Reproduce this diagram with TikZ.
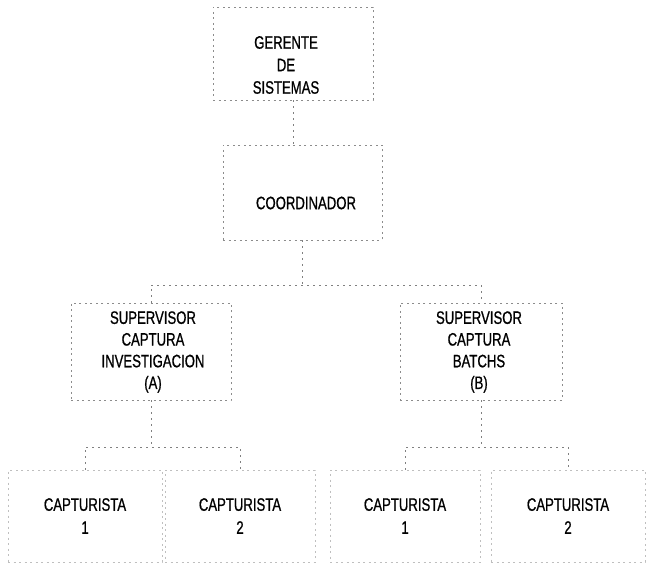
\documentclass[tikz,border=0pt]{standalone}
\usepackage{fontspec}
\setmainfont{Liberation Sans}[FakeStretch=0.73,FakeBold=0.8]
\begin{document}
\begin{tikzpicture}[x=1pt,y=-1pt,
  box/.style={draw=black!45, line width=0.6pt, dash pattern=on 2pt off 3.5pt,
    rectangle, inner sep=0pt},
  capbox/.style={box, draw=black!25},
  txt/.style={inner sep=0pt, align=center, font=\fontsize{18}{22.5}\selectfont},
  conn/.style={draw=black!50, line width=0.6pt, dash pattern=on 2pt off 4pt}]
\useasboundingbox (0,0) rectangle (654,564);
\node[box, minimum width=160pt, minimum height=93pt] (G) at (293,53.5) {};
\node[txt] (Gt) at (286,65) {GERENTE\\DE\\SISTEMAS};
\node[box, minimum width=159pt, minimum height=95pt] (C) at (302.5,192.5) {};
\node[txt] (Ct) at (306,203) {COORDINADOR};
\node[box, minimum width=160pt, minimum height=97pt] (SA) at (151,351.5) {};
\node[txt, font=\fontsize{18}{21.7}\selectfont] (SAt) at (153,352) {SUPERVISOR\\CAPTURA\\INVESTIGACION\\(A)};
\node[box, minimum width=162pt, minimum height=97pt] (SB) at (481,351.5) {};
\node[txt, font=\fontsize{18}{21.7}\selectfont] (SBt) at (479,352) {SUPERVISOR\\CAPTURA\\BATCHS\\(B)};
\node[capbox, minimum width=154pt, minimum height=92pt] (A1) at (85,516) {};
\node[txt, font=\fontsize{18}{23}\selectfont] (A1t) at (85,516) {CAPTURISTA\\1};
\node[capbox, minimum width=150pt, minimum height=92pt] (A2) at (240,516) {};
\node[txt, font=\fontsize{18}{23}\selectfont] (A2t) at (240,516) {CAPTURISTA\\2};
\node[capbox, minimum width=150pt, minimum height=92pt] (B1) at (405,516) {};
\node[txt, font=\fontsize{18}{23}\selectfont] (B1t) at (405,516) {CAPTURISTA\\1};
\node[capbox, minimum width=154pt, minimum height=92pt] (B2) at (568,516) {};
\node[txt, font=\fontsize{18}{23}\selectfont] (B2t) at (568,516) {CAPTURISTA\\2};
\coordinate (busC) at (0,285);
\coordinate (busA) at (0,447);
\draw[conn] (G.south) -- (G.south |- C.north);
\draw[conn] (C.south) -- (C.south |- busC);
\draw[conn] (SA.north) -- (SA.north |- busC) -- (SB.north |- busC) -- (SB.north);
\draw[conn] (SA.south) -- (SA.south |- busA);
\draw[conn] (A1.north) -- (A1.north |- busA) -- (A2.north |- busA) -- (A2.north);
\draw[conn] (SB.south) -- (SB.south |- busA);
\draw[conn] (B1.north) -- (B1.north |- busA) -- (B2.north |- busA) -- (B2.north);
\end{tikzpicture}
\end{document}
